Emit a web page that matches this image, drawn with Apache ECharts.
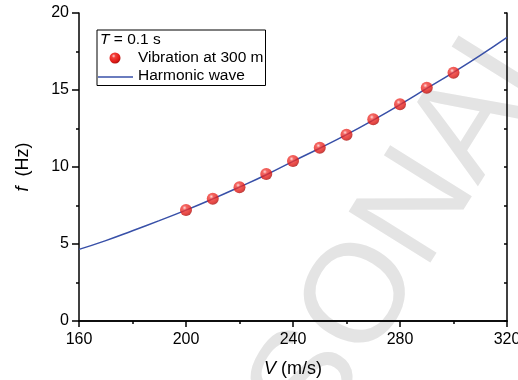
<!DOCTYPE html>
<html><head><meta charset="utf-8">
<script src="https://cdn.jsdelivr.net/npm/echarts@6/dist/echarts.min.js"></script>
<style>html,body{margin:0;padding:0;background:#fff}#c{width:518px;height:380px}</style>
</head><body><div id="c"></div>
<script>
const vPoints = [200, 210, 220, 230, 240, 250, 260, 270, 280, 290, 300];
const fPoints = [7.21, 7.94, 8.68, 9.55, 10.39, 11.25, 12.1, 13.1, 14.07, 15.15, 16.12];
const vLine = [160, 170, 180, 190, 200, 210, 220, 230, 240, 250, 260, 270, 280, 290, 300, 310, 320];
const fLine = [4.65, 5.22, 5.86, 6.52, 7.2, 7.93, 8.7, 9.5, 10.37, 11.22, 12.1, 13.05, 14.05, 15.1, 16.15, 17.25, 18.42];
const xTicks = [160, 200, 240, 280, 320];
const yTicks = [0, 5, 10, 15, 20];
const legendTitle = '{i|T} = 0.1 s';
const seriesNames = ['Vibration at 300 m', 'Harmonic wave'];
const watermark = 'SONAL';

const FONT = 'Arial, "Liberation Sans", sans-serif';
const sphere = {
  type: 'radial', x: 0.38, y: 0.32, r: 0.7,
  colorStops: [{offset: 0, color: '#ffd0d0'}, {offset: 0.25, color: '#f2403a'}, {offset: 0.75, color: '#e01a16'}, {offset: 1, color: '#a80e0c'}]
};
const blue = '#3850a8';
const xStep = xTicks[1] - xTicks[0];
const yStep = yTicks[1] - yTicks[0];

const chart = echarts.init(document.getElementById('c'));
chart.setOption({
  animation: false,
  grid: {left: 79, right: 11, top: 13, bottom: 59, containLabel: false, outerBoundsMode: 'none'},
  xAxis: [{
    type: 'value', position: 'bottom', min: xTicks[0], max: xTicks[xTicks.length - 1], interval: xStep,
    name: '{i|V} (m/s)', nameLocation: 'middle', nameGap: 39,
    nameTextStyle: {fontFamily: FONT, fontSize: 18, color: '#000', rich: {i: {fontFamily: FONT, fontSize: 18, fontStyle: 'italic', color: '#000'}}},
    axisLine: {show: true, lineStyle: {color: '#000', width: 1.5}},
    axisTick: {show: true, inside: false, length: 6, lineStyle: {color: '#000', width: 1.5}},
    minorTick: {show: true, splitNumber: 2, length: 3, lineStyle: {color: '#000', width: 1.5}},
    axisLabel: {fontFamily: FONT, fontSize: 16, color: '#000', margin: 11},
    splitLine: {show: false}, minorSplitLine: {show: false}
  }, {
    type: 'value', position: 'top', min: xTicks[0], max: xTicks[xTicks.length - 1], interval: xStep / 2,
    axisLine: {show: true, lineStyle: {color: '#000', width: 1.5}},
    axisTick: {show: true, inside: true, length: 3, lineStyle: {color: '#000', width: 1.5}},
    axisLabel: {show: false}, splitLine: {show: false}
  }],
  yAxis: [{
    type: 'value', position: 'left', min: yTicks[0], max: yTicks[yTicks.length - 1], interval: yStep,
    name: '{i|f}  (Hz)', nameLocation: 'middle', nameGap: 47, nameRotate: 90,
    nameTextStyle: {fontFamily: FONT, fontSize: 18, color: '#000', rich: {i: {fontFamily: FONT, fontSize: 18, fontStyle: 'italic', color: '#000'}}},
    axisLine: {show: true, lineStyle: {color: '#000', width: 1.5}},
    axisTick: {show: true, inside: false, length: 7, lineStyle: {color: '#000', width: 1.5}},
    minorTick: {show: true, splitNumber: 2, length: 3, lineStyle: {color: '#000', width: 1.5}},
    axisLabel: {fontFamily: FONT, fontSize: 16, color: '#000', margin: 10},
    splitLine: {show: false}, minorSplitLine: {show: false}
  }, {
    type: 'value', position: 'right', min: yTicks[0], max: yTicks[yTicks.length - 1], interval: yStep / 2,
    axisLine: {show: true, lineStyle: {color: '#000', width: 1.5}},
    axisTick: {show: true, inside: true, length: 3, lineStyle: {color: '#000', width: 1.5}},
    axisLabel: {show: false}, splitLine: {show: false}
  }],
  series: [{
    name: seriesNames[1], type: 'line', smooth: true, showSymbol: false, symbol: 'none',
    data: vLine.map((v, i) => [v, fLine[i]]),
    lineStyle: {color: blue, width: 1.5}, z: 3
  }, {
    name: seriesNames[0], type: 'scatter', symbol: 'circle', symbolSize: 12,
    data: vPoints.map((v, i) => [v, fPoints[i]]),
    itemStyle: {color: sphere}, z: 4
  }],
  graphic: [{
    type: 'text', z: -1, silent: true,
    x: 410, y: 222, rotation: 58 * Math.PI / 180,
    style: {text: watermark, font: '140px Arial, "Liberation Sans", sans-serif', fill: '#e4e4e4', align: 'center', verticalAlign: 'middle'}
  }, {
    type: 'group', z: 10,
    children: [{
      type: 'rect', shape: {x: 97, y: 30, width: 168.5, height: 55.5},
      style: {fill: '#fff', stroke: '#000', lineWidth: 1}
    }, {
      type: 'text', x: 100, y: 40,
      style: {text: legendTitle, font: '15.5px ' + FONT, fill: '#000', verticalAlign: 'middle',
        rich: {i: {fontStyle: 'italic', fontSize: 15.5, fontFamily: FONT, fill: '#000'}}}
    }, {
      type: 'circle', shape: {cx: 115, cy: 58, r: 5.5}, style: {fill: sphere}
    }, {
      type: 'text', x: 138, y: 58,
      style: {text: seriesNames[0], font: '15.5px ' + FONT, fill: '#000', verticalAlign: 'middle'}
    }, {
      type: 'line', shape: {x1: 98, y1: 77, x2: 133, y2: 77}, style: {stroke: blue, lineWidth: 1.5}
    }, {
      type: 'text', x: 138, y: 76,
      style: {text: seriesNames[1], font: '15.5px ' + FONT, fill: '#000', verticalAlign: 'middle'}
    }]
  }]
});
</script>
</body></html>
